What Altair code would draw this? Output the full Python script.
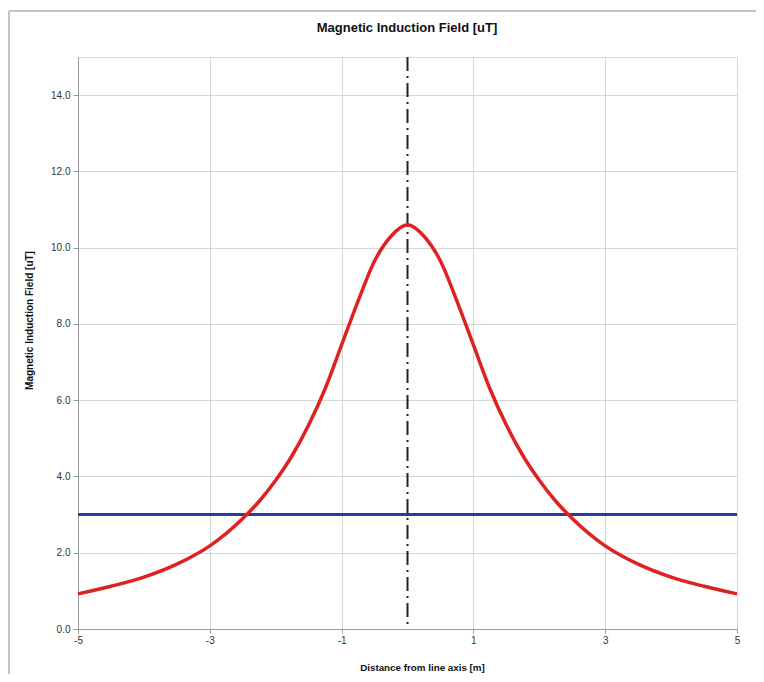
import altair as alt
import pandas as pd

# Curve (symmetric about the line axis)
x_vals = [-5.0, -4.5, -4.0, -3.5, -3.0, -2.5, -2.25, -2.0, -1.75, -1.5, -1.25, -1.0, -0.75, -0.5, -0.25,
          0.0, 0.25, 0.5, 0.75, 1.0, 1.25, 1.5, 1.75, 2.0, 2.25, 2.5, 3.0, 3.5, 4.0, 4.5, 5.0]
b_vals = [0.92, 1.12, 1.36, 1.70, 2.18, 2.90, 3.35, 3.90, 4.55, 5.35, 6.30, 7.45, 8.60, 9.65, 10.30,
          10.60, 10.30, 9.65, 8.60, 7.45, 6.30, 5.35, 4.55, 3.90, 3.35, 2.90, 2.18, 1.70, 1.36, 1.12, 0.92]
limit_x = [-5.0, 5.0]
limit_y = [3.0, 3.0]
axis_x = [0.0]
x_ticks = [-5, -3, -1, 1, 3, 5]
y_ticks = [0, 2, 4, 6, 8, 10, 12, 14]
chart_title = ["Magnetic Induction Field [uT]"]

curve = pd.DataFrame({"x": x_vals, "b": b_vals})
limit = pd.DataFrame({"x": limit_x, "b": limit_y})
centre = pd.DataFrame({"x": axis_x})

xs = alt.Scale(domain=[-5, 5], nice=False, zero=False)
ys = alt.Scale(domain=[0, 15], nice=False)

x_axis = alt.Axis(values=x_ticks, title="Distance from line axis [m]",
                  labelExpr="datum.value < 0 ? '-' + abs(datum.value) : '' + datum.value",
                  titleFontSize=9.8, titleFontWeight="bold", titleColor="#111",
                  titleFont="Liberation Sans", titlePadding=17, titleX=344,
                  labelFontSize=10, labelColor="#333", labelFont="Liberation Sans",
                  labelPadding=2, tickSize=4, tickColor="#999", domainColor="#999",
                  gridColor="#d6d6d6", labelFlush=False)
y_axis = alt.Axis(values=y_ticks, title="Magnetic Induction Field  [uT]", format=".1f",
                  titleFontSize=10, titleFontWeight="bold", titleColor="#111",
                  titleFont="Liberation Sans", titlePadding=16, titleY=263,
                  labelFontSize=10, labelColor="#333", labelFont="Liberation Sans",
                  labelPadding=3, tickSize=5, tickColor="#999", domainColor="#999",
                  gridColor="#d6d6d6")

base_line = alt.Chart(curve).mark_line(color="#dd2222", strokeWidth=3.5, interpolate="monotone").encode(
    x=alt.X("x:Q", scale=xs, axis=x_axis),
    y=alt.Y("b:Q", scale=ys, axis=y_axis),
)
limit_line = alt.Chart(limit).mark_line(color="#2a3b9e", strokeWidth=3).encode(
    x=alt.X("x:Q", scale=xs),
    y=alt.Y("b:Q", scale=ys),
)
centre_line = alt.Chart(centre).mark_rule(color="#222222", strokeWidth=2,
                                          strokeDash=[14, 5, 2, 5]).encode(
    x=alt.X("x:Q", scale=xs),
)
frame = pd.DataFrame({"k": [0]})
frame_top = alt.Chart(frame).mark_rule(color="#c4c4c4", strokeWidth=2).encode(
    x=alt.value(-69), x2=alt.value(700), y=alt.value(-46))
frame_left = alt.Chart(frame).mark_rule(color="#c4c4c4", strokeWidth=2).encode(
    x=alt.value(-69), y=alt.value(-46), y2=alt.value(617))
title_text = alt.Chart(pd.DataFrame({"t": chart_title})).mark_text(
    fontSize=13, fontWeight="bold", font="Liberation Sans", color="#111",
    align="center", baseline="middle").encode(
    text="t:N", x=alt.value(329), y=alt.value(-29))

chart = alt.layer(frame_top, frame_left, centre_line, limit_line, base_line, title_text).properties(
    width=659, height=572,
    autosize=alt.AutoSizeParams(type="none"),
    padding={"left": 70, "top": 49, "right": 19, "bottom": 45},
).configure_view(fill="#f0f0f0", stroke=None).configure(background="white")

chart.save("out.html", embed_options={"renderer": "svg", "actions": False})
